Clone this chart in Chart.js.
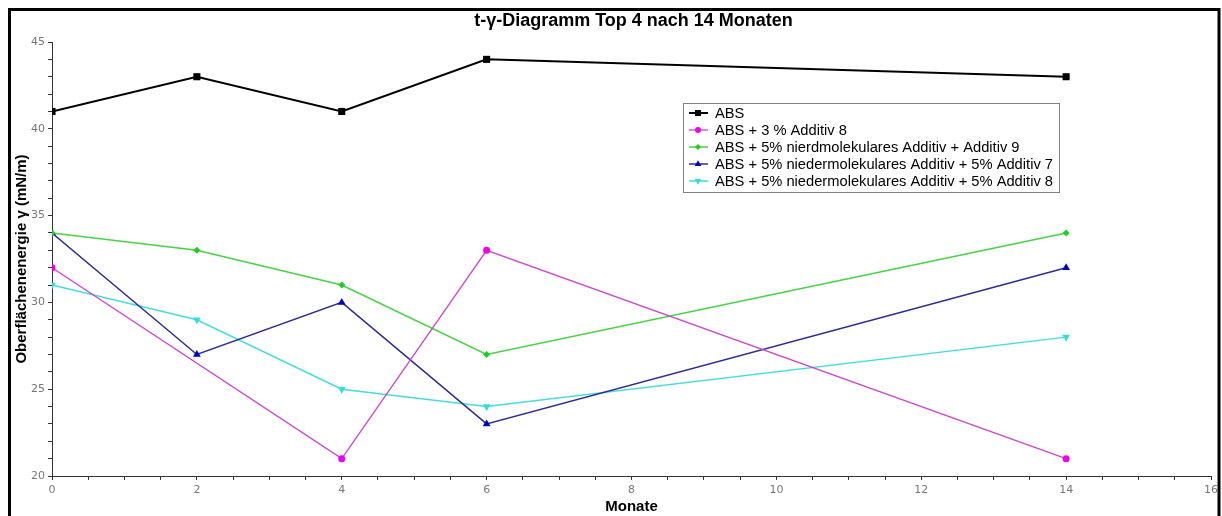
<!DOCTYPE html>
<html>
<head>
<meta charset="utf-8">
<script src="https://cdn.jsdelivr.net/npm/chart.js@4"></script>
<style>
  html, body { margin: 0; padding: 0; background: #fff; }
  #wrap { position: relative; width: 1222px; height: 516px; }
</style>
</head>
<body>
<div id="wrap"><canvas id="chart"></canvas></div>
<script>
// Monate
const months = [0, 2, 4, 6, 14];

const seriesNames = [
    'ABS',
    'ABS + 3 % Additiv 8',
    'ABS + 5% nierdmolekulares Additiv + Additiv 9',
    'ABS + 5% niedermolekulares Additiv + 5% Additiv 7',
    'ABS + 5% niedermolekulares Additiv + 5% Additiv 8',
];

// Oberflächenenergie (mN/m)
const absValues = [41, 43, 41, 44, 43];
const additiv8Values = [32, null, 21, 33, 21];
const additiv9Values = [34, 33, 31, 27, 34];
const additiv7Values = [34, 27, 30, 23, 32];
const additiv8bValues = [31, 29, 25, 24, 28];

const chartTitle = 't-γ-Diagramm Top 4 nach 14 Monaten';

const toPoints = (vals) => months.map((m, i) => ({ x: m, y: vals[i] }));

const datasets = [
    { label: seriesNames[0], data: toPoints(absValues), borderColor: '#000000', backgroundColor: '#000000',
      borderWidth: 2, pointStyle: 'rect', pointRadius: 5 },
    { label: seriesNames[1], data: toPoints(additiv8Values), borderColor: '#cc44cc', backgroundColor: '#ee00ee',
      borderWidth: 1.3, pointStyle: 'circle', pointRadius: 3.5, spanGaps: true },
    { label: seriesNames[2], data: toPoints(additiv9Values), borderColor: '#44d444', backgroundColor: '#22cc22',
      borderWidth: 1.5, pointStyle: 'rectRot', pointRadius: 3.5 },
    { label: seriesNames[3], data: toPoints(additiv7Values), borderColor: '#2c2c96', backgroundColor: '#0000cc',
      borderWidth: 1.5, pointStyle: 'triangle', pointRadius: 4.5 },
    { label: seriesNames[4], data: toPoints(additiv8bValues), borderColor: '#44dddd', backgroundColor: '#33dddd',
      borderWidth: 1.5, pointStyle: 'triangle', pointRotation: 180, pointRadius: 4.5 },
];
datasets.forEach(d => { d.pointBorderWidth = 0; d.tension = 0; d.fill = false; });

// frame, title over the plot area, legend box
const framePlugin = {
    id: 'frame',
    afterDraw(chart) {
        const ctx = chart.ctx;
        const area = chart.chartArea;
        ctx.save();
        ctx.strokeStyle = '#000';
        ctx.lineWidth = 3;
        ctx.strokeRect(9.5, 9.5, 1209.5, 520);

        ctx.fillStyle = '#000';
        ctx.font = 'bold 18px "Liberation Sans", Arial, sans-serif';
        ctx.textAlign = 'center';
        ctx.textBaseline = 'middle';
        ctx.fillText(chartTitle, (area.left + area.right) / 2 + 2, 21);
        ctx.restore();

        // legend
        const x0 = 683, y0 = 103, w = 376, h = 89, rowH = 17;
        ctx.save();
        ctx.fillStyle = '#fff';
        ctx.fillRect(x0, y0, w, h);
        ctx.strokeStyle = '#808080';
        ctx.lineWidth = 1;
        ctx.strokeRect(x0 + 0.5, y0 + 0.5, w, h);
        ctx.font = '14.7px "Liberation Sans", Arial, sans-serif';
        ctx.textBaseline = 'middle';
        chart.data.datasets.forEach((ds, i) => {
            const cy = y0 + 10 + i * rowH;
            ctx.strokeStyle = ds.borderColor;
            ctx.lineWidth = ds.borderWidth;
            ctx.beginPath();
            ctx.moveTo(x0 + 6, cy);
            ctx.lineTo(x0 + 25, cy);
            ctx.stroke();
            ctx.fillStyle = ds.backgroundColor;
            ctx.strokeStyle = ds.backgroundColor;
            Chart.helpers.drawPoint(ctx, {
                pointStyle: ds.pointStyle, rotation: ds.pointRotation || 0,
                radius: ds.pointRadius * 0.85, borderWidth: 0
            }, x0 + 15, cy);
            ctx.fillStyle = '#000';
            ctx.fillText(ds.label, x0 + 32, cy + 1);
        });
        ctx.restore();
    }
};

new Chart(document.getElementById('chart'), {
    type: 'line',
    data: { datasets },
    options: {
        responsive: true,
        maintainAspectRatio: false,
        animation: false,
        layout: { padding: { left: 13, right: 11, top: 42, bottom: 0 } },
        plugins: {
            legend: { display: false },
            tooltip: { enabled: false },
            title: { display: false },
        },
        scales: {
            x: {
                type: 'linear',
                min: 0,
                max: 16,
                afterFit: (s) => { s.height = 40; },
                border: { color: '#333', width: 1 },
                grid: { drawOnChartArea: false, drawTicks: true, tickLength: 4, color: '#333' },
                ticks: {
                    stepSize: 0.5,
                    autoSkip: false,
                    maxRotation: 0,
                    padding: 4,
                    color: '#777',
                    font: { family: '"DejaVu Sans", Verdana, sans-serif', size: 11 },
                    callback: (v) => (v % 2 === 0 ? String(v) : ''),
                },
                title: {
                    display: true,
                    text: 'Monate',
                    color: '#000',
                    padding: { top: 0, bottom: 0 },
                    font: { family: '"Liberation Sans", Arial, sans-serif', size: 15, weight: 'bold' },
                },
            },
            y: {
                type: 'linear',
                min: 20,
                max: 45,
                afterFit: (s) => { s.width = 39; },
                border: { color: '#333', width: 1 },
                grid: { drawOnChartArea: false, drawTicks: true, tickLength: 4, color: '#333' },
                ticks: {
                    stepSize: 1,
                    autoSkip: false,
                    padding: 3,
                    color: '#777',
                    font: { family: '"DejaVu Sans", Verdana, sans-serif', size: 11 },
                    callback: (v) => (v % 5 === 0 ? String(v) : ''),
                },
                title: {
                    display: true,
                    text: 'Oberflächenenergie γ (mN/m)',
                    color: '#000',
                    padding: { top: 0, bottom: 0 },
                    font: { family: '"Liberation Sans", Arial, sans-serif', size: 15, weight: 'bold' },
                },
            },
        },
    },
    plugins: [framePlugin],
});
</script>
</body>
</html>
